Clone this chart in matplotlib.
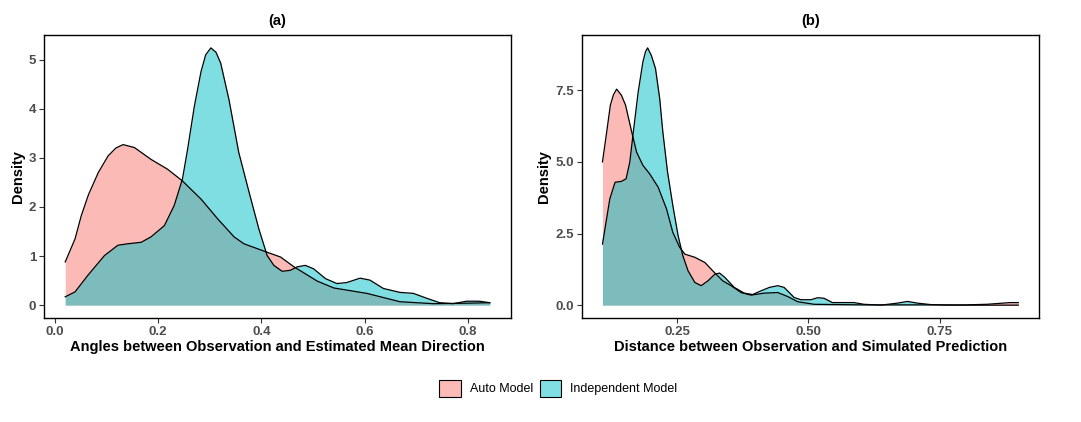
import matplotlib
matplotlib.use("Agg")
import matplotlib.pyplot as plt
from matplotlib.patches import Patch

plt.rcParams['font.family'] = ['Liberation Sans', 'DejaVu Sans']

# Panel (a) data
a_auto_x = [0.02, 0.039, 0.051, 0.065, 0.084, 0.103, 0.118, 0.132, 0.154, 0.186, 0.218, 0.247, 0.283, 0.315,
            0.347, 0.366, 0.405, 0.437, 0.463, 0.508, 0.540, 0.604, 0.668, 0.733, 0.797, 0.842]
a_auto_y = [0.88, 1.35, 1.82, 2.25, 2.70, 3.04, 3.20, 3.27, 3.21, 2.97, 2.77, 2.53, 2.16, 1.76,
            1.39, 1.25, 1.10, 0.98, 0.78, 0.49, 0.35, 0.24, 0.07, 0.03, 0.04, 0.05]
a_ind_x = [0.02, 0.039, 0.064, 0.096, 0.122, 0.141, 0.167, 0.186, 0.212, 0.231, 0.247, 0.257, 0.270, 0.283,
           0.292, 0.302, 0.312, 0.321, 0.337, 0.356, 0.376, 0.395, 0.411, 0.424, 0.440, 0.456, 0.469,
           0.485, 0.501, 0.524, 0.546, 0.565, 0.591, 0.610, 0.636, 0.668, 0.694, 0.720, 0.745, 0.771,
           0.797, 0.822, 0.842]
a_ind_y = [0.17, 0.27, 0.61, 1.01, 1.22, 1.25, 1.28, 1.39, 1.62, 2.03, 2.57, 3.18, 4.05, 4.76,
           5.10, 5.24, 5.15, 4.93, 4.19, 3.11, 2.30, 1.55, 1.01, 0.81, 0.69, 0.71, 0.78,
           0.81, 0.74, 0.54, 0.44, 0.46, 0.55, 0.51, 0.34, 0.26, 0.24, 0.14, 0.05, 0.03,
           0.08, 0.08, 0.05]

# Panel (b) data
b_auto_x = [0.108, 0.116, 0.123, 0.129, 0.135, 0.144, 0.152, 0.163, 0.173, 0.185, 0.198, 0.214, 0.230, 0.242,
            0.255, 0.265, 0.284, 0.303, 0.318, 0.337, 0.353, 0.372, 0.391, 0.416, 0.442, 0.461, 0.480,
            0.511, 0.60, 0.80, 0.840, 0.885, 0.90]
b_auto_y = [5.0, 6.04, 6.98, 7.35, 7.54, 7.33, 6.98, 6.10, 5.34, 4.88, 4.58, 4.12, 3.36, 2.54,
            2.02, 1.78, 1.67, 1.49, 1.20, 0.85, 0.68, 0.44, 0.35, 0.42, 0.44, 0.30, 0.12,
            0.03, 0.01, 0.01, 0.03, 0.09, 0.09]
b_ind_x = [0.108, 0.122, 0.132, 0.144, 0.153, 0.160, 0.166, 0.176, 0.185, 0.190, 0.194, 0.201, 0.209, 0.217,
           0.223, 0.232, 0.242, 0.252, 0.261, 0.271, 0.284, 0.296, 0.309, 0.322, 0.331, 0.341, 0.359,
           0.378, 0.394, 0.410, 0.426, 0.442, 0.454, 0.473, 0.486, 0.505, 0.518, 0.530, 0.546, 0.568,
           0.587, 0.606, 0.638, 0.670, 0.689, 0.708, 0.733, 0.765, 0.90]
b_ind_y = [2.13, 3.71, 4.29, 4.32, 4.41, 4.99, 5.93, 7.44, 8.49, 8.85, 8.98, 8.72, 8.26, 7.21,
           6.04, 4.64, 3.48, 2.43, 1.73, 1.20, 0.79, 0.68, 0.85, 1.08, 1.12, 0.97, 0.62,
           0.42, 0.37, 0.50, 0.62, 0.68, 0.62, 0.27, 0.19, 0.19, 0.26, 0.24, 0.09, 0.09,
           0.09, 0.03, 0.0, 0.07, 0.13, 0.07, 0.02, 0.0, 0.0]

series_names = ["Auto Model", "Independent Model"]
series_colors = ["#F8766D", "#00BFC4"]

panel_titles = ["(a)", "(b)"]
x_labels = ["Angles between Observation and Estimated Mean Direction",
            "Distance between Observation and Simulated Prediction"]
a_xticks = [0.0, 0.2, 0.4, 0.6, 0.8]
a_xticklabels = ["0.0", "0.2", "0.4", "0.6", "0.8"]
a_yticks = [0, 1, 2, 3, 4, 5]
a_yticklabels = ["0", "1", "2", "3", "4", "5"]
b_xticks = [0.25, 0.50, 0.75]
b_xticklabels = ["0.25", "0.50", "0.75"]
b_yticks = [0.0, 2.5, 5.0, 7.5]
b_yticklabels = ["0.0", "2.5", "5.0", "7.5"]

fig = plt.figure(figsize=(10.81, 4.22), dpi=100)
ax_a = fig.add_axes([0.0407, 0.2464, 0.4320, 0.6706])
ax_b = fig.add_axes([0.5381, 0.2464, 0.4231, 0.6706])

panels = [
    (ax_a, [(a_auto_x, a_auto_y), (a_ind_x, a_ind_y)], a_xticks, a_xticklabels, a_yticks, a_yticklabels),
    (ax_b, [(b_auto_x, b_auto_y), (b_ind_x, b_ind_y)], b_xticks, b_xticklabels, b_yticks, b_yticklabels),
]

for i, (ax, data, xt, xtl, yt, ytl) in enumerate(panels):
    xmin = min(min(d[0]) for d in data); xmax = max(max(d[0]) for d in data)
    ymax = max(max(d[1]) for d in data)
    for (xs, ys), col in zip(data, series_colors):
        ax.fill_between(xs, 0, ys, color=col, alpha=0.5, linewidth=0)
        ax.plot(xs, ys, color="black", linewidth=0.9, solid_joinstyle='round')
    dx = (xmax - xmin) * 0.05
    dy = ymax * 0.05
    ax.set_xlim(xmin - dx, xmax + dx)
    ax.set_ylim(-dy, ymax + dy)
    ax.set_xticks(xt)
    ax.set_xticklabels(xtl)
    ax.set_yticks(yt)
    ax.set_yticklabels(ytl)
    ax.tick_params(axis='both', colors="#333333", labelcolor="#4D4D4D", labelsize=9.5,
                   length=3.5, width=0.8, pad=2)
    for lab in ax.get_xticklabels() + ax.get_yticklabels():
        lab.set_fontweight('bold')
    for sp in ax.spines.values():
        sp.set_linewidth(1.0)
        sp.set_color("black")
    ax.set_title(panel_titles[i], fontsize=10.5, fontweight='bold', pad=7)
    ax.set_xlabel(x_labels[i], fontsize=10.5, fontweight='bold', labelpad=2)
    ax.set_ylabel("Density", fontsize=10.5, fontweight='bold', labelpad=3)

handles = [Patch(facecolor=(0.5 + 0.5 * int(c[1:3], 16) / 255,
                            0.5 + 0.5 * int(c[3:5], 16) / 255,
                            0.5 + 0.5 * int(c[5:7], 16) / 255),
                 edgecolor="black", linewidth=0.8) for c in series_colors]
fig.legend(handles, series_names, loc="center", bbox_to_anchor=(0.5165, 0.080), ncol=2,
           frameon=False, fontsize=9, handlelength=1.75, handleheight=1.75, handletextpad=0.7,
           columnspacing=0.5)

fig.savefig("out.png", dpi=100)
